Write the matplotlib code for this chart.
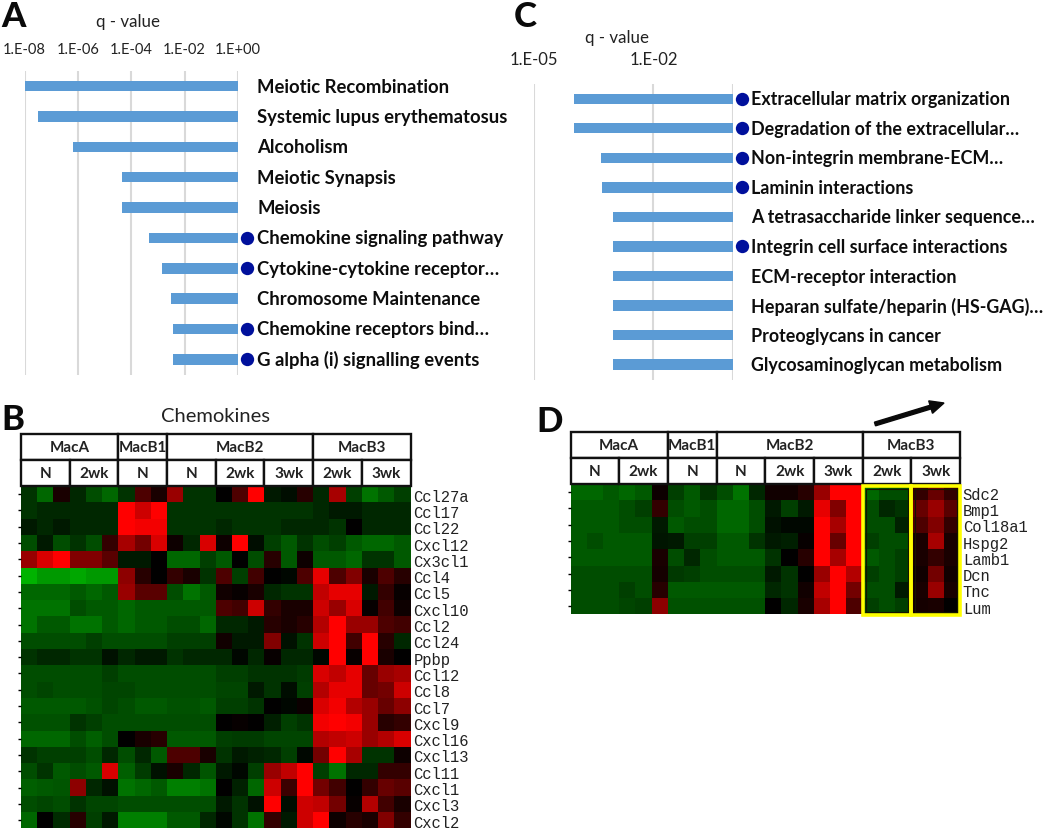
import numpy as np
import matplotlib
matplotlib.use('Agg')
import matplotlib.pyplot as plt
from matplotlib.colors import LinearSegmentedColormap
from matplotlib.patches import Rectangle, FancyArrow
from matplotlib.transforms import ScaledTranslation

W, H = 1050, 829

# Panel A
terms_a = ['Meiotic Recombination', 'Systemic lupus erythematosus', 'Alcoholism',
           'Meiotic Synapsis', 'Meiosis', 'Chemokine signaling pathway',
           'Cytokine-cytokine receptor…', 'Chromosome Maintenance',
           'Chemokine receptors bind…', 'G alpha (i) signalling events']
q_a = [1e-8, 3.3e-8, 6.6e-7, 4.5e-5, 4.5e-5, 4.6e-4, 1.4e-3, 3.1e-3, 3.6e-3, 3.6e-3]
dots_a = [5, 6, 8, 9]
ticks_a = [1e-8, 1e-6, 1e-4, 1e-2, 1]
ticklabels_a = ['1.E-08', '1.E-06', '1.E-04', '1.E-02', '1.E+00']

# Panel C
terms_c = ['Extracellular matrix organization', 'Degradation of the extracellular…',
           'Non-integrin membrane-ECM…', 'Laminin interactions',
           'A tetrasaccharide linker sequence…', 'Integrin cell surface interactions',
           'ECM-receptor interaction', 'Heparan sulfate/heparin (HS-GAG)…',
           'Proteoglycans in cancer', 'Glycosaminoglycan metabolism']
q_c = [1e-4, 1e-4, 4.9e-4, 5.2e-4, 9.5e-4, 9.5e-4, 9.5e-4, 9.5e-4, 9.5e-4, 9.5e-4]
dots_c = [0, 1, 2, 3, 5]
ticks_c = [1e-5, 1e-2, 1]
ticklabels_c = ['1.E-05', '1.E-02', '']

# Heatmap columns
groups = [('MacA', 6), ('MacB1', 3), ('MacB2', 9), ('MacB3', 6)]
subgroups = [('N', 3), ('2wk', 3), ('N', 3), ('N', 3), ('2wk', 3), ('3wk', 3), ('2wk', 3), ('3wk', 3)]

# Panel B, log ratios scaled to -10 (green) .. 10 (red)
genes_b = ['Ccl27a', 'Ccl17', 'Ccl22', 'Cxcl12', 'Cx3cl1', 'Ccl4', 'Ccl5', 'Cxcl10', 'Ccl2', 'Ccl24', 'Ppbp',
           'Ccl12', 'Ccl8', 'Ccl7', 'Cxcl9', 'Cxcl16', 'Cxcl13', 'Ccl11', 'Cxcl1', 'Cxcl3', 'Cxcl2']
heat_b = [
    [-2, -4, 1, -1.5, -3, -4, -2, 3, 1, 6, -2, -2, 0, 3, 10, -1, -0.5, 1.5, -1.5, 6.5, -2.5, -4.5, -3.5, -2.5],
    [-2, -1.5, -1.5, -1.5, -1.5, -1.5, 10, 8, 10, -2, -2, -2, -2, -2, -2, -2, -2, -2, -1.5, -1, -1, -1.5, -1.5, -1.5],
    [-1, -1.5, -1, -1.5, -1.5, -1.5, 10, 9.5, 9.5, -2, -2, -2, -1.5, -2, -2, -2, -1.5, -1.5, -1.5, -2, 0, -1.5, -1.5, -1.5],
    [-3, -1, -3, -2, -3, 2, 6.5, 4.5, 8.5, 0.5, -1.5, 8.5, 0.5, 10, -0.5, -2.5, -3.5, -2, -3, -2.5, -3.5, -4, -4, -3.5],
    [6, 8.5, 10, 5, 5, 3.5, -1, -1, 0, -4, -4, -2.5, -3.5, 0, -3, 1.5, -3.5, 0.5, -3.5, -3.5, -4, -2, -2, -3.5],
    [-7, -6, -6, -6.5, -6, -6, 5.5, 1.5, 0, 2, 1, -2, 3, -2.5, 2.5, 0, -0.3, 3, 9, 3, 5, 1, 3, 1.5],
    [-4, -4, -4, -3.5, -4, -3.5, 6, 3.5, 3.5, -3, -4.5, -3.5, 0.7, 0.3, 1, -1.5, -2, -2, 7.5, 9, 9, -1, 2, 0.3],
    [-4.5, -4.5, -4.5, -3, -3.5, -3.5, -4, -3.5, -3.5, -3.5, -3.5, -3.5, 3, 2.5, 8, 2, 1, 1, 8, 6, 8.5, 0.3, 2.5, 0.5],
    [-4.5, -3.5, -3.5, -4.5, -4.5, -3.5, -4, -3.5, -3.5, -3, -3, -4, -1.5, -1.5, -1, 1.5, 1, 1.5, 7, 10, 6, 6, 3, 2.5],
    [-3, -3, -3, -3, -2.5, -3, -3, -3, -3, -2.5, -2.5, -2.5, 0.7, -1, -1, 5, -0.7, -2, 8, 10, 2.5, 10, 1.5, -1.5],
    [-2, -1.5, -1.5, -2, -2, -0.7, -1.5, -1, -1, -2, -1.5, -1.5, -1.5, -0.3, -1.5, 0.3, -1.5, -1.5, -0.3, 10, 0.3, 10, 1, 0],
    [-3, -3, -3, -3, -3, -2.5, -3, -3, -3, -3, -3, -3, -2.5, -2.5, -2, -2, -2, -2.3, 8.5, 7.5, 9, 4, 6, 6.5],
    [-3, -2.7, -3, -3, -3, -2.7, -2.7, -3, -3, -3, -3, -3, -2.7, -2.7, -1, -2, -0.5, -2.5, 7, 9, 9, 4, 4.5, 8],
    [-3.5, -3.5, -3.5, -3.5, -3.2, -2.7, -3, -3.5, -3.5, -3.2, -3.2, -3.5, -2.5, -2.5, -2, 0, -0.3, 0.4, 8.5, 9.5, 7, 6, 4, 5.5],
    [-3.2, -3.2, -3.2, -2, -2.5, -3, -3, -3, -3, -3, -3, -3, 0, 0.3, 0, -1.2, -2.5, -2, 9.5, 10, 9.5, 6, 1.5, 2],
    [-4, -4, -4, -3, -3.7, -3, 0, 1, 1.5, -3.5, -3.5, -3.5, -2.5, -2.3, -2.3, -2.7, -2.7, -2.7, 7, 7.5, 8, 6, 7, 8.5],
    [-2, -2.5, -2.5, -2.5, -3, -1.5, -3, -1.5, -3.5, 3, 3, 1, -2, -1, -1.3, -1.5, -2.5, -0.3, 4.5, 10, 6.5, -2, -2, 0.5],
    [-3, -2, -3.5, -3, -3.5, 8.5, -3.7, -2.3, -0.7, 1, -1.5, -3.3, -1, -0.3, -2.5, 6, 7.5, 10, -2.5, -4.5, -1.5, -1.5, 2, 2],
    [-3.7, -3.5, -3.3, 5.5, -1.5, -0.7, -4.5, -4, -3.5, -5, -5, -4.5, 0, -1.3, -4, 8, 2.3, 10, 4.5, 2.5, 0, 2, 4, 3.5],
    [-3, -2.7, -3, -2, -2.7, -2.7, -3, -3, -3, -3, -3, -3, -1, -2, -0.7, 10, -0.5, 8, 7.5, 4.5, 0.3, 7, 2.5, 1],
    [-4, 0, -1.7, 1.5, -2.5, -1, -5, -5, -5, -3.5, -3.5, -1.5, -0.3, -2, -4.5, 2, -1, 8, 10, 0.5, 1.5, 1, 5, 2],
]

# Panel D
genes_d = ['Sdc2', 'Bmp1', 'Col18a1', 'Hspg2', 'Lamb1', 'Dcn', 'Tnc', 'Lum']
heat_d = [
    [-4, -4, -3.5, -4, -3.5, 0.5, -2.5, -3.5, -2, -3, -4.5, -1.5, 0.7, 0.7, 1.5, 6, 10, 10, -4, -3, -3, 2, 4, 2],
    [-3.5, -3.5, -3.5, -3, -2.5, 2, -3, -3.5, -3, -4, -4, -3, -1, -2.5, -1, 9, 5, 10, -3, -1.5, -2, 4, 6, 3.5],
    [-3.5, -3.5, -3.5, -3, -3, -1, -3.5, -3, -3, -4, -4, -3, -0.7, -0.3, -0.3, 10, 6.5, 10, -3, -3, -1.3, 3, 5, 2],
    [-3.5, -3, -3.5, -3.5, -3.5, -0.8, -1, -2.5, -2.5, -3.5, -3.5, -2, -1, -1.2, 0.3, 10, 4, 10, -2.5, -3, -3, 1, 6.5, 1],
    [-3.5, -3.5, -3.5, -3.5, -3.5, 1, -3, -1.5, -3, -3.5, -3.5, -3.5, -2, 0, 1.5, 10, 6.5, 10, -3.5, -3, -2.5, 1, 2, 1],
    [-3, -3, -3, -3, -3, 0.8, -2.2, -2.5, -3, -3, -3, -3, -1, -2, 0, 6, 10, 7, -2.5, -3, -2.5, 0.7, 4.5, 0.7],
    [-3, -3, -3, -2.5, -3, 1.5, -3.5, -3.5, -3.5, -3.5, -3.5, -3.5, -1.5, -2, 0.7, 7.5, 10, 4.5, -3, -3, -1, 1, 6, 1],
    [-3, -3, -3, -2.7, -2.5, 5.5, -3.2, -3.2, -3.2, -3.2, -3.2, -3.2, 0, -1.5, 1, 6.5, 10, 3, -2.5, -3, -2.5, 0.8, 1, 0],
]

plt.rcParams['font.family'] = ['Lato', 'DejaVu Sans']
green_red = LinearSegmentedColormap.from_list('green_red', ['#00ff00', '#000000', '#ff0000'])

fig = plt.figure(figsize=(W / 100, H / 100), dpi=100)


def axes_px(x0, y0, x1, y1):
    # axes from pixel box, y counted from the top of the image
    return fig.add_axes([x0 / W, 1 - y1 / H, (x1 - x0) / W, (y1 - y0) / H])


def bar_panel(box, terms, q, dots, ticks, ticklabels, xmin, tick_size, pad, label_gap, label_size):
    ax = axes_px(*box)
    y = np.arange(len(terms))
    ax.barh(y, [1 - v for v in q], left=q, height=0.35, color='#5b9bd5', zorder=3)
    ax.set_xscale('log')
    ax.set_xlim(xmin, 1)
    ax.set_ylim(len(terms) - 0.5 + 0.02, -0.5)
    ax.set_xticks(ticks)
    ax.set_xticklabels(ticklabels, fontsize=tick_size, color='#222222')
    ax.xaxis.set_minor_locator(matplotlib.ticker.NullLocator())
    ax.xaxis.tick_top()
    ax.tick_params(axis='x', length=0, pad=pad)
    ax.set_yticks([])
    for s in ax.spines.values():
        s.set_visible(False)
    ax.grid(axis='x', color='#d9d9d9', linewidth=1.5, zorder=0)
    width = box[2] - box[0]
    for i, term in enumerate(terms):
        ax.text(1 + label_gap / width, i, term, transform=ax.get_yaxis_transform(),
                fontsize=label_size, fontweight='bold', va='center', color='#0d0d0d')
    ax.scatter([1 + 9 / width] * len(dots), dots, transform=ax.get_yaxis_transform(),
               s=92, color='#00109c', clip_on=False, zorder=4, linewidths=0)
    return ax


def heat_panel(x0, y0, values, genes):
    rows = len(genes)
    ax = axes_px(x0, y0, x0 + 389.5, y0 + rows * 16.3)
    ax.pcolormesh(np.array(values) / 10, cmap=green_red, vmin=-1, vmax=1)
    ax.set_ylim(rows, 0)
    ax.set_xlim(0, 24)
    ax.set_xticks([])
    ax.set_yticks(np.arange(rows) + 0.5)
    ax.set_yticklabels(genes, family='Liberation Mono', fontsize=11.2, color='#222222')
    ax.tick_params(axis='y', left=True, right=False, labelleft=False, labelright=True,
                   length=2, width=1, pad=0)
    # gene names sit a little below the row centres
    shift = ScaledTranslation(0, -0.5 / 100, fig.dpi_scale_trans)
    for label in ax.get_yticklabels():
        label.set_transform(label.get_transform() + shift)
    for s in ax.spines.values():
        s.set_visible(False)

    # column header table above the heatmap
    h = 25.8 / 16.3
    x = 0
    for name, n in groups:
        ax.add_patch(Rectangle((x, -2 * h), n, h, fc='white', ec='#111111', lw=1.7, clip_on=False))
        ax.text(x + n / 2, -1.5 * h, name, ha='center', va='center', fontsize=11, fontweight='bold',
                color='#222222')
        x += n
    x = 0
    for name, n in subgroups:
        ax.add_patch(Rectangle((x, -h), n, h, fc='white', ec='#111111', lw=1.7, clip_on=False))
        ax.text(x + n / 2, -0.5 * h, name, ha='center', va='center', fontsize=11, fontweight='bold',
                color='#222222')
        x += n
    return ax


bar_panel((24.5, 72, 238, 376), terms_a, q_a, dots_a, ticks_a, ticklabels_a, 1e-8, 10.5, 10.5, 19, 13.3)
bar_panel((534, 85, 733, 381), terms_c, q_c, dots_c, ticks_c, ticklabels_c, 1e-5, 12, 12, 18, 12.9)

heat_panel(21, 487, heat_b, genes_b)
ax_d = heat_panel(570.5, 485, heat_d, genes_d)

# yellow boxes around MacB3 in panel D, thin dark edge just inside
for start in (18, 21):
    ax_d.add_patch(Rectangle((start + 0.2, 0.3), 2.6, 7.55, fill=False, ec='#141400', lw=0.8, clip_on=False, zorder=5))
    ax_d.add_patch(Rectangle((start, 0.1), 3, 7.95, fill=False, ec='#ffff00', lw=2.6, clip_on=False, zorder=6))

# trend arrow above MacB3
overlay = fig.add_axes([0, 0, 1, 1])
overlay.set_xlim(0, W)
overlay.set_ylim(H, 0)
overlay.axis('off')
overlay.patch.set_alpha(0)
overlay.add_patch(FancyArrow(875, 425, 69, -21, width=3.8, head_width=13, head_length=14,
                             length_includes_head=True, color='#0a0a0a'))

# panel letters and headings
for letter, x, y in [('A', 1, 27), ('C', 514, 27), ('B', 1, 430), ('D', 536, 432)]:
    overlay.text(x, y, letter, fontsize=25, fontweight='black', va='baseline', color='#0a0a0a')
overlay.text(128, 22, 'q - value', fontsize=12.2, ha='center', va='center', color='#222222')
overlay.text(617, 38, 'q - value', fontsize=12.2, ha='center', va='center', color='#222222')
overlay.text(216, 416, 'Chemokines', fontsize=14.5, ha='center', va='center', color='#222222')

fig.savefig('out.png', dpi=100)
